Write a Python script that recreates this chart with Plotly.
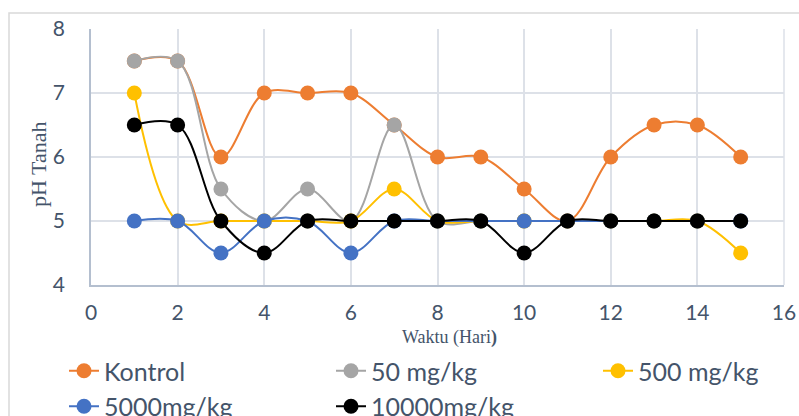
import plotly.graph_objects as go

days = list(range(1, 16))
kontrol = [7.5, 7.5, 6, 7, 7, 7, 6.5, 6, 6, 5.5, 5, 6, 6.5, 6.5, 6]
dosis_50 = [7.5, 7.5, 5.5, 5, 5.5, 5, 6.5, 5, 5, 5, 5, 5, 5, 5, 5]
dosis_500 = [7, 5, 5, 5, 5, 5, 5.5, 5, 5, 5, 5, 5, 5, 5, 4.5]
dosis_5000 = [5, 5, 4.5, 5, 5, 4.5, 5, 5, 5, 5, 5, 5, 5, 5, 5]
dosis_10000 = [6.5, 6.5, 5, 4.5, 5, 5, 5, 5, 5, 4.5, 5, 5, 5, 5, 5]

series = [
    ("Kontrol", kontrol, "#ed7d31", "legend"),
    ("50 mg/kg", dosis_50, "#a5a5a5", "legend2"),
    ("500 mg/kg", dosis_500, "#ffc000", "legend3"),
    ("5000mg/kg", dosis_5000, "#4472c4", "legend"),
    ("10000mg/kg", dosis_10000, "#000000", "legend2"),
]

TEXT = "#44546a"
W, H = 799, 416
L, R, T, B = 91, 15, 29, 131
pw, ph = W - L - R, H - T - B

def px_x(x):
    return (x - L) / pw

def px_y(y):
    return (H - B - y) / ph

fig = go.Figure()
for name, vals, color, leg in series:
    fig.add_trace(go.Scatter(
        x=days, y=vals, name=name, mode="lines+markers",
        line=dict(color=color, width=2, shape="spline", smoothing=1),
        marker=dict(color=color, size=15),
        legend=leg,
    ))

leg_font = dict(family="Lato, sans-serif", size=25, color=TEXT)
def legend_at(xpx):
    return dict(x=px_x(xpx), y=px_y(348), xanchor="left", yanchor="top",
                orientation="v", font=leg_font, bgcolor="rgba(0,0,0,0)",
                tracegroupgap=0, itemwidth=30)

fig.update_layout(
    width=W, height=H,
    margin=dict(l=L, r=R, t=T, b=B, autoexpand=False),
    paper_bgcolor="white", plot_bgcolor="white",
    showlegend=True,
    legend=legend_at(64),
    legend2=legend_at(331),
    legend3=legend_at(598),
    xaxis=dict(
        range=[0, 16], tickmode="linear", tick0=0, dtick=2,
        showgrid=True, gridcolor="#dde1e8", gridwidth=1.5,
        showline=True, linecolor="#b4bfcf", linewidth=1.5,
        zeroline=False, ticks="", ticklabelstandoff=8,
        tickfont=dict(family="Lato, sans-serif", size=21, color=TEXT),
    ),
    yaxis=dict(
        range=[4, 8], tickmode="linear", tick0=4, dtick=1,
        showgrid=True, gridcolor="#dde1e8", gridwidth=1.5,
        showline=True, linecolor="#b4bfcf", linewidth=1.5,
        zeroline=False, ticks="", ticklabelstandoff=20,
        tickfont=dict(family="Lato, sans-serif", size=21, color=TEXT),
    ),
    shapes=[
        dict(type="rect", xref="paper", yref="paper",
             x0=px_x(9), y0=px_y(13), x1=px_x(830), y1=px_y(460),
             line=dict(color="#d9d9d9", width=1.5), layer="below"),
        dict(type="line", xref="paper", yref="paper",
             x0=1, x1=1, y0=0, y1=1,
             line=dict(color="#dde1e8", width=1.5), layer="below"),
    ],
    annotations=[
        dict(text="Waktu (Hari<b>)</b>", xref="paper", yref="paper",
             x=px_x(449), y=px_y(337), xanchor="center", yanchor="middle",
             showarrow=False,
             font=dict(family="Liberation Serif, serif", size=18, color=TEXT)),
        dict(text="pH Tanah", xref="paper", yref="paper",
             x=px_x(38), y=px_y(165), xanchor="center", yanchor="middle",
             textangle=-90, showarrow=False,
             font=dict(family="Liberation Serif, serif", size=22, color=TEXT)),
    ],
)

fig.write_html("out.html")
